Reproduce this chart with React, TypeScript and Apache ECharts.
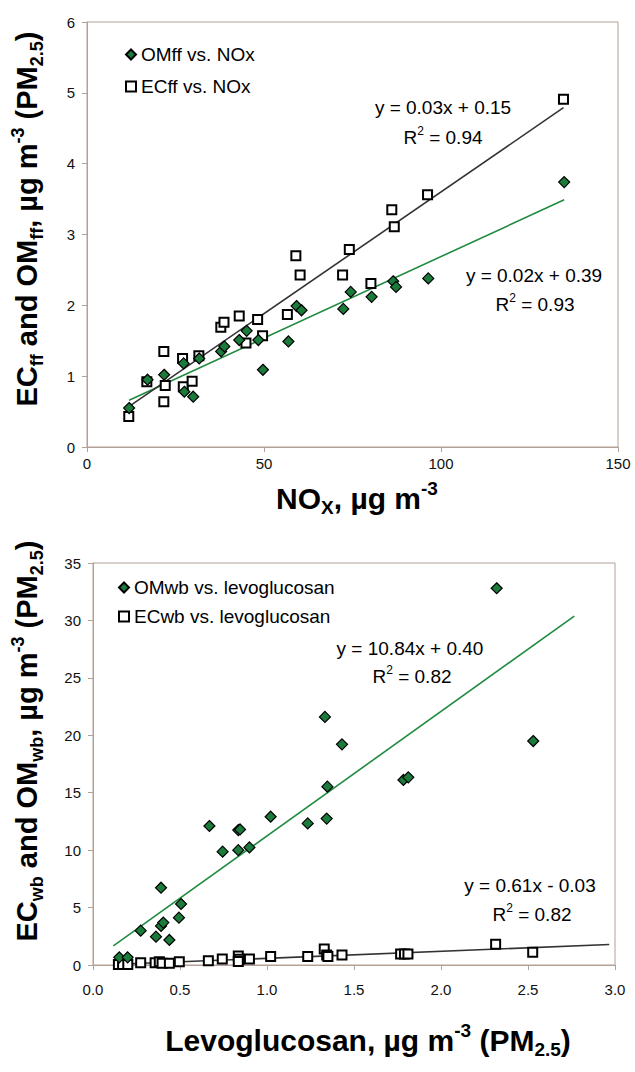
import React, { useEffect, useRef } from "react";
import * as echarts from "echarts";

// ---- Top panel: NOx (µg m-3) vs OMff / ECff (µg m-3) ----
const noxOm = [11.9, 17.1, 21.8, 27.3, 27.5, 30.0, 31.7, 37.9, 38.8, 43.0, 45.1, 48.4, 49.7, 56.9, 59.2, 60.6, 72.4, 74.5, 80.4, 86.5, 87.3, 96.4, 134.8];
const omFf = [0.55, 0.95, 1.02, 1.18, 0.78, 0.71, 1.25, 1.35, 1.42, 1.51, 1.64, 1.51, 1.09, 1.49, 1.99, 1.93, 1.95, 2.19, 2.12, 2.34, 2.26, 2.38, 3.74];
const noxEc = [11.8, 16.9, 21.7, 22.1, 21.7, 27.0, 27.2, 29.7, 31.6, 37.8, 38.7, 43.0, 44.9, 48.2, 49.6, 56.6, 59.0, 60.2, 72.2, 74.1, 80.2, 86.1, 86.8, 96.2, 134.6];
const ecFf = [0.43, 0.92, 1.35, 0.87, 0.64, 1.25, 0.85, 0.93, 1.29, 1.69, 1.76, 1.85, 1.47, 1.80, 1.57, 1.87, 2.70, 2.43, 2.43, 2.79, 2.31, 3.35, 3.11, 3.56, 4.91];
// trendlines (end points as drawn)
const trendOmFfX = [11.9, 134.8];
const trendOmFfY = [0.66, 3.49];
const trendEcFfX = [11.8, 134.6];
const trendEcFfY = [0.57, 4.79];
const topXTicks = { min: 0, max: 150, interval: 50 };
const topYTicks = { min: 0, max: 6, interval: 1 };

// ---- Bottom panel: levoglucosan vs OMwb / ECwb ----
const levoOm = [0.151, 0.199, 0.274, 0.362, 0.391, 0.404, 0.391, 0.439, 0.494, 0.506, 0.669, 0.745, 0.835, 0.845, 0.835, 0.899, 1.021, 1.234, 1.333, 1.343, 1.347, 1.431, 1.784, 1.812, 2.320, 2.530];
const omWb = [0.67, 0.67, 2.99, 2.47, 3.40, 3.69, 6.73, 2.18, 4.12, 5.31, 12.10, 9.87, 11.75, 11.8, 10.0, 10.24, 12.91, 12.33, 21.6, 12.75, 15.53, 19.21, 16.11, 16.34, 32.8, 19.5];
const levoEc = [0.146, 0.17, 0.2, 0.274, 0.357, 0.381, 0.397, 0.439, 0.496, 0.663, 0.743, 0.835, 0.84, 0.835, 0.899, 1.021, 1.234, 1.329, 1.343, 1.35, 1.431, 1.768, 1.79, 1.81, 2.314, 2.527];
const ecWb = [0.05, 0.05, 0.05, 0.2, 0.2, 0.29, 0.15, 0.15, 0.29, 0.38, 0.52, 0.78, 0.5, 0.3, 0.52, 0.73, 0.73, 1.39, 0.87, 0.73, 0.87, 0.96, 0.96, 0.96, 1.80, 1.10];
const trendOmWbX = [0.117, 2.766];
const trendOmWbY = [1.67, 30.38];
const trendEcWbX = [0.146, 2.967];
const trendEcWbY = [0.06, 1.78];
const botXTicks = { min: 0, max: 3, interval: 0.5 };
const botYTicks = { min: 0, max: 35, interval: 5 };

const FONT = "'Liberation Sans', Arial, sans-serif";
const GREEN = "#1b7b3b";
const GREEN_LINE = "#1f8b40";
const GREEN_TEXT = "#2b8c47";
const FRAME = "#b3a096";

const zip = (xs: number[], ys: number[]) => xs.map((x, i) => [x, ys[i]]);

function axisCommon(t: { min: number; max: number; interval: number }, margin: number, fmt?: (v: number) => string) {
  return {
    type: "value",
    min: t.min,
    max: t.max,
    interval: t.interval,
    splitLine: { show: false },
    axisLine: { show: true, lineStyle: { color: FRAME, width: 1 } },
    axisTick: { show: true, inside: false, length: 5, lineStyle: { color: FRAME } },
    axisLabel: {
      color: "#111",
      fontSize: 15,
      fontFamily: FONT,
      margin,
      formatter: fmt,
    },
  };
}

const titleRich = (size: number) => ({
  b: { fontSize: size, fontWeight: "bold", fontFamily: FONT, color: "#000", lineHeight: size + 8, verticalAlign: "middle" },
  sub: { fontSize: Math.round(size * 0.62), fontWeight: "bold", fontFamily: FONT, color: "#000", lineHeight: Math.round(size * 0.62), verticalAlign: "bottom" },
  sup: { fontSize: Math.round(size * 0.62), fontWeight: "bold", fontFamily: FONT, color: "#000", lineHeight: Math.round(size * 0.62), verticalAlign: "top" },
});

const annRich = (color: string) => ({
  t: { fontSize: 19, fontFamily: FONT, color, lineHeight: 24, verticalAlign: "middle" },
  sup: { fontSize: 12, fontFamily: FONT, color, lineHeight: 12, verticalAlign: "top" },
});

function textEl(x: number, y: number, text: string, rich: any, rotation = 0) {
  return {
    type: "text",
    x,
    y,
    rotation,
    style: { text, rich, align: "center", verticalAlign: "middle" },
  };
}

export default function App() {
  const ref = useRef<HTMLDivElement>(null);
  useEffect(() => {
    if (!ref.current) return;
    const chart = echarts.init(ref.current, undefined, { renderer: "svg" });
    const fmt1 = (v: number) => v.toFixed(1);
    chart.setOption({
      animation: false,
      backgroundColor: "#fff",
      grid: [
        { left: 87, top: 22, width: 531, height: 425, show: true, borderColor: FRAME, borderWidth: 1, backgroundColor: "transparent" },
        { left: 93, top: 563, width: 522, height: 402, show: true, borderColor: FRAME, borderWidth: 1, backgroundColor: "transparent" },
      ],
      xAxis: [
        { ...axisCommon(topXTicks, 9), gridIndex: 0 },
        { ...axisCommon(botXTicks, 17, fmt1), gridIndex: 1 },
      ],
      yAxis: [
        { ...axisCommon(topYTicks, 12), gridIndex: 0 },
        { ...axisCommon(botYTicks, 12), gridIndex: 1 },
      ],
      legend: [
        {
          orient: "vertical",
          left: 120,
          top: 39,
          itemWidth: 10,
          itemHeight: 10,
          itemGap: 11,
          textStyle: { fontSize: 19, fontFamily: FONT, color: "#000", lineHeight: 21 },
          data: ["OMff vs. NOx", "ECff vs. NOx"],
        },
        {
          orient: "vertical",
          left: 113,
          top: 572,
          itemWidth: 10,
          itemHeight: 10,
          itemGap: 8,
          textStyle: { fontSize: 19, fontFamily: FONT, color: "#000", lineHeight: 21 },
          data: ["OMwb vs. levoglucosan", "ECwb vs. levoglucosan"],
        },
      ],
      series: [
        {
          name: "OMff trend",
          type: "line",
          xAxisIndex: 0,
          yAxisIndex: 0,
          data: zip(trendOmFfX, trendOmFfY),
          showSymbol: false,
          lineStyle: { color: GREEN_LINE, width: 1.6 },
          z: 1,
        },
        {
          name: "ECff trend",
          type: "line",
          xAxisIndex: 0,
          yAxisIndex: 0,
          data: zip(trendEcFfX, trendEcFfY),
          showSymbol: false,
          lineStyle: { color: "#333", width: 1.6 },
          z: 1,
        },
        {
          name: "ECff vs. NOx",
          type: "scatter",
          xAxisIndex: 0,
          yAxisIndex: 0,
          symbol: "rect",
          symbolSize: 9,
          data: zip(noxEc, ecFf),
          itemStyle: { color: "#fff", borderColor: "#000", borderWidth: 2, opacity: 1 },
          z: 2,
        },
        {
          name: "OMff vs. NOx",
          type: "scatter",
          xAxisIndex: 0,
          yAxisIndex: 0,
          symbol: "diamond",
          symbolSize: 11,
          data: zip(noxOm, omFf),
          itemStyle: { color: GREEN, borderColor: "#000", borderWidth: 1.2, opacity: 1 },
          z: 3,
        },
        {
          name: "OMwb trend",
          type: "line",
          xAxisIndex: 1,
          yAxisIndex: 1,
          data: zip(trendOmWbX, trendOmWbY),
          showSymbol: false,
          lineStyle: { color: GREEN_LINE, width: 1.6 },
          z: 1,
        },
        {
          name: "ECwb trend",
          type: "line",
          xAxisIndex: 1,
          yAxisIndex: 1,
          data: zip(trendEcWbX, trendEcWbY),
          showSymbol: false,
          lineStyle: { color: "#333", width: 1.6 },
          z: 1,
        },
        {
          name: "ECwb vs. levoglucosan",
          type: "scatter",
          xAxisIndex: 1,
          yAxisIndex: 1,
          symbol: "rect",
          symbolSize: 9,
          data: zip(levoEc, ecWb),
          itemStyle: { color: "#fff", borderColor: "#000", borderWidth: 2, opacity: 1 },
          z: 2,
        },
        {
          name: "OMwb vs. levoglucosan",
          type: "scatter",
          xAxisIndex: 1,
          yAxisIndex: 1,
          symbol: "diamond",
          symbolSize: 11,
          data: zip(levoOm, omWb),
          itemStyle: { color: GREEN, borderColor: "#000", borderWidth: 1.2, opacity: 1 },
          z: 3,
        },
      ],
      graphic: [
        // axis titles
        textEl(357, 498, "{b|NO}{sub|X}{b|, µg m}{sup|-3}", titleRich(30)),
        textEl(27, 219, "{b|EC}{sub|ff}{b| and OM}{sub|ff}{b|, µg m}{sup|-3}{b| (PM}{sub|2.5}{b|)}", titleRich(29), Math.PI / 2),
        textEl(368, 1040, "{b|Levoglucosan, µg m}{sup|-3}{b| (PM}{sub|2.5}{b|)}", titleRich(30)),
        textEl(27, 741, "{b|EC}{sub|wb}{b| and OM}{sub|wb}{b|, µg m}{sup|-3}{b| (PM}{sub|2.5}{b|)}", titleRich(29), Math.PI / 2),
        // regression annotations
        textEl(443, 107, "{t|y = 0.03x + 0.15}", annRich("#111")),
        textEl(443, 137, "{t|R}{sup|2}{t| = 0.94}", annRich("#111")),
        textEl(534, 275, "{t|y = 0.02x + 0.39}", annRich(GREEN_TEXT)),
        textEl(535, 304, "{t|R}{sup|2}{t| = 0.93}", annRich(GREEN_TEXT)),
        textEl(410, 648, "{t|y = 10.84x + 0.40}", annRich(GREEN_TEXT)),
        textEl(412, 676, "{t|R}{sup|2}{t| = 0.82}", annRich(GREEN_TEXT)),
        textEl(530, 885, "{t|y = 0.61x - 0.03}", annRich("#111")),
        textEl(532, 914, "{t|R}{sup|2}{t| = 0.82}", annRich("#111")),
      ],
    });
    return () => chart.dispose();
  }, []);
  return <div ref={ref} style={{ position: "fixed", left: 0, top: 0, width: 635, height: 1072, background: "#fff" }} />;
}
